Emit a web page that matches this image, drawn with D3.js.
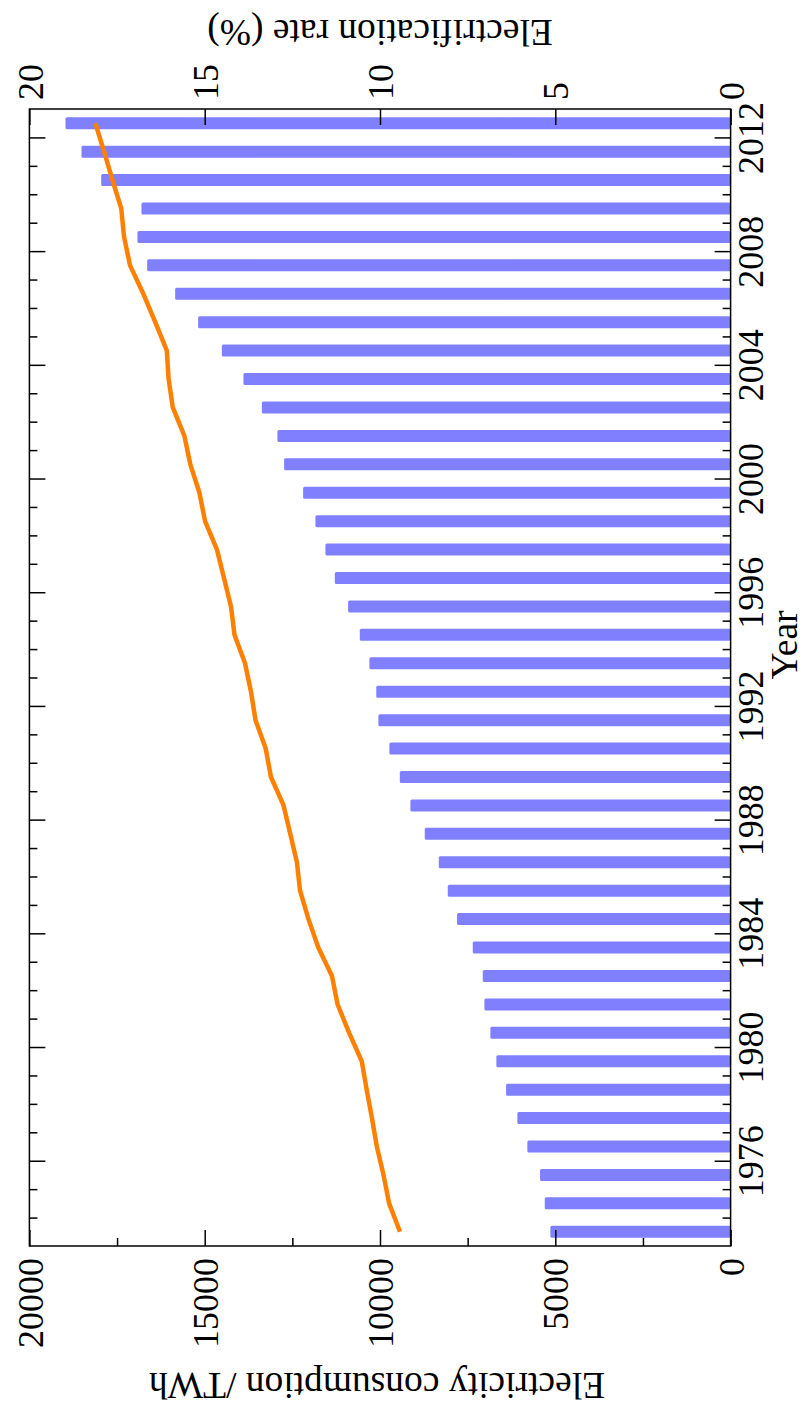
<!DOCTYPE html>
<html>
<head>
<meta charset="utf-8">
<script src="https://cdn.jsdelivr.net/npm/d3@7"></script>
<style>
  body { margin: 0; background: #fff; }
  svg text { font-family: "Liberation Serif", "Times New Roman", serif; fill: #000; }
</style>
</head>
<body>
<svg id="chart" width="808" height="1415"></svg>
<script>
// years shown, one bar per year
var years = [1973, 1974, 1975, 1976, 1977, 1978, 1979, 1980, 1981, 1982,
  1983, 1984, 1985, 1986, 1987, 1988, 1989, 1990, 1991, 1992,
  1993, 1994, 1995, 1996, 1997, 1998, 1999, 2000, 2001, 2002,
  2003, 2004, 2005, 2006, 2007, 2008, 2009, 2010, 2011, 2012];

// electricity consumption, TWh
var consumption = [5141, 5301, 5435, 5797, 6082, 6404, 6681, 6852, 7023, 7069,
  7354, 7802, 8067, 8323, 8723, 9133, 9435, 9732, 10046, 10106,
  10302, 10576, 10910, 11289, 11557, 11842, 12193, 12735, 12926, 13370,
  13895, 14511, 15187, 15843, 16641, 16918, 16804, 17953, 18514, 18971];

// electrification rate, %
var rate = [9.43, 9.74, 9.90, 10.09, 10.23, 10.38, 10.52, 10.88, 11.21, 11.37,
  11.76, 12.04, 12.28, 12.37, 12.56, 12.75, 13.11, 13.26, 13.55, 13.68,
  13.85, 14.15, 14.25, 14.45, 14.65, 14.99, 15.15, 15.41, 15.58, 15.91,
  16.03, 16.08, 16.41, 16.75, 17.13, 17.30, 17.38, 17.63, 17.87, 18.12];

// tick labels
var consTicks = [0, 5000, 10000, 15000, 20000];
var consMinor = [2500, 7500, 12500, 17500];
var rateTicks = [0, 5, 10, 15, 20];
var yearTicks = [1976, 1980, 1984, 1988, 1992, 1996, 2000, 2004, 2008, 2012];

var svg = d3.select("#chart");
var pLeft = 29.4, pRight = 730.6, pTop = 109, pBottom = 1246;
var fontSize = 36;
var titleSize = 37.5;

// the chart is drawn turned a quarter turn: years run upward, values run leftward
var yYear = d3.scaleLinear().domain([1973, 2013]).range([pBottom, pTop]);
var xCons = d3.scaleLinear().domain([0, 20000]).range([pRight, pLeft]);
var xRate = d3.scaleLinear().domain([0, 20]).range([pRight, pLeft]);

var barH = 12;

// bars
svg.append("g")
  .selectAll("rect")
  .data(years)
  .enter()
  .append("rect")
  .attr("x", (d, i) => xCons(consumption[i]))
  .attr("y", d => yYear(d + 0.5) - barH / 2)
  .attr("width", (d, i) => xCons(0) - xCons(consumption[i]))
  .attr("height", barH)
  .attr("rx", 1.5)
  .attr("fill", "#8080ff");

// rate line
var line = d3.line()
  .x((d, i) => xRate(rate[i]))
  .y(d => yYear(d + 0.5));

svg.append("path")
  .datum(years)
  .attr("d", line)
  .attr("fill", "none")
  .attr("stroke", "#ff8000")
  .attr("stroke-width", 4.5)
  .attr("stroke-linejoin", "round");

function styleAxis(g) {
  g.select(".domain").remove();
  g.attr("font-family", null).attr("font-size", fontSize);
  g.selectAll("line").attr("stroke", "#000").attr("stroke-width", 1.5);
}

// bottom axis: consumption
svg.append("g")
  .attr("transform", "translate(0," + pBottom + ")")
  .call(d3.axisBottom(xCons).tickValues(consMinor).tickSize(-8).tickFormat(""))
  .call(styleAxis);

svg.append("g")
  .attr("transform", "translate(0," + pBottom + ")")
  .call(d3.axisBottom(xCons).tickValues(consTicks).tickSize(-16).tickFormat(d3.format("d")))
  .call(styleAxis)
  .call(g => g.selectAll("text")
    .attr("x", 0).attr("y", 0).attr("dy", "0.35em")
    .attr("text-anchor", "end")
    .attr("transform", "translate(0,12) rotate(-90)"));

// top axis: electrification rate
svg.append("g")
  .attr("transform", "translate(0," + pTop + ")")
  .call(d3.axisTop(xRate).tickValues(rateTicks).tickSize(-16).tickFormat(d3.format("d")))
  .call(styleAxis)
  .call(g => g.selectAll("text")
    .attr("x", 0).attr("y", 0).attr("dy", "0.35em")
    .attr("text-anchor", "start")
    .attr("transform", "translate(0,-9) rotate(-90)"));

// right axis: years
var minorYears = d3.range(1974, 2013).filter(y => yearTicks.indexOf(y) < 0);

svg.append("g")
  .attr("transform", "translate(" + pRight + ",0)")
  .call(d3.axisRight(yYear).tickValues(minorYears).tickSize(-8).tickFormat(""))
  .call(styleAxis);

svg.append("g")
  .attr("transform", "translate(" + pRight + ",0)")
  .call(d3.axisRight(yYear).tickValues(yearTicks).tickSize(-16).tickFormat(d3.format("d")))
  .call(styleAxis)
  .call(g => g.selectAll("text")
    .attr("x", 0).attr("y", 0).attr("dy", null)
    .attr("text-anchor", "middle")
    .attr("transform", "translate(" + (763 - pRight) + ",0) rotate(-90)"));

// left side mirrors the year ticks
svg.append("g")
  .attr("transform", "translate(" + pLeft + ",0)")
  .call(d3.axisLeft(yYear).tickValues(minorYears).tickSize(-8).tickFormat(""))
  .call(styleAxis);

svg.append("g")
  .attr("transform", "translate(" + pLeft + ",0)")
  .call(d3.axisLeft(yYear).tickValues(yearTicks).tickSize(-16).tickFormat(""))
  .call(styleAxis);

// frame
svg.append("rect")
  .attr("x", pLeft).attr("y", pTop)
  .attr("width", pRight - pLeft).attr("height", pBottom - pTop)
  .attr("fill", "none")
  .attr("stroke", "#000")
  .attr("stroke-width", 1.5);

// axis titles
svg.append("text")
  .attr("transform", "translate(380,20) rotate(180)")
  .attr("text-anchor", "middle")
  .attr("font-size", titleSize)
  .text("Electrification rate (%)");

svg.append("text")
  .attr("transform", "translate(377,1373) rotate(180)")
  .attr("text-anchor", "middle")
  .attr("font-size", titleSize)
  .text("Electricity consumption /TWh");

svg.append("text")
  .attr("transform", "translate(797,645) rotate(-90)")
  .attr("text-anchor", "middle")
  .attr("font-size", titleSize)
  .text("Year");
</script>
</body>
</html>
